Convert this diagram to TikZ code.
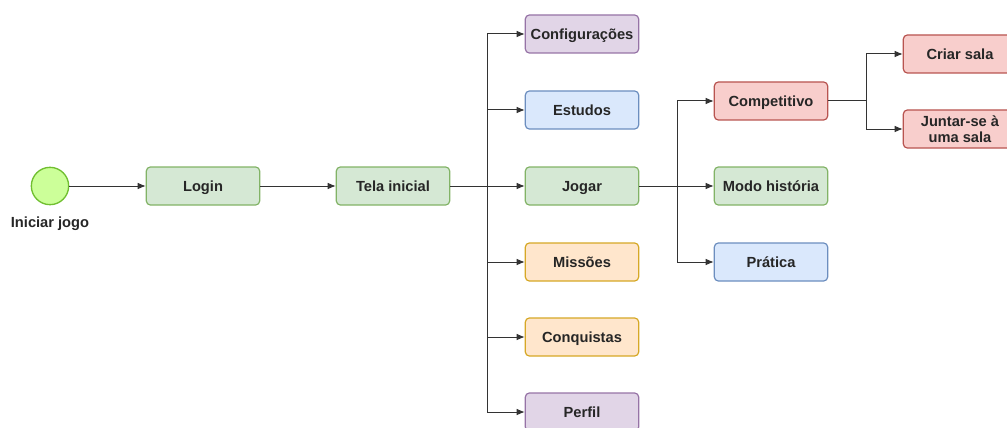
\documentclass[tikz,border=0pt]{standalone}
\usepackage{fontspec}
\setmainfont{Liberation Sans}
\usetikzlibrary{arrows.meta}

\definecolor{greenfill}{HTML}{D5E8D4}
\definecolor{greenline}{HTML}{82B366}
\definecolor{purplefill}{HTML}{E1D5E7}
\definecolor{purpleline}{HTML}{9673A6}
\definecolor{bluefill}{HTML}{DAE8FC}
\definecolor{blueline}{HTML}{6C8EBF}
\definecolor{orangefill}{HTML}{FFE6CC}
\definecolor{orangeline}{HTML}{D6A826}
\definecolor{redfill}{HTML}{F8CECC}
\definecolor{redline}{HTML}{B85450}
\definecolor{startfill}{HTML}{CCFF99}
\definecolor{startline}{HTML}{70BF30}
\definecolor{wirecolor}{HTML}{333333}

\tikzset{
  screen/.style={rectangle, rounded corners=3pt, draw, line width=0.9pt,
    minimum width=85pt, minimum height=28.5pt, inner sep=1pt, align=center,
    text height=9.5pt, text depth=1.6pt,
    font=\fontsize{11}{12}\selectfont\bfseries, text=black!85},
  greenbox/.style={screen, fill=greenfill, draw=greenline},
  purplebox/.style={screen, fill=purplefill, draw=purpleline},
  bluebox/.style={screen, fill=bluefill, draw=blueline},
  orangebox/.style={screen, fill=orangefill, draw=orangeline},
  redbox/.style={screen, fill=redfill, draw=redline},
  wire/.style={draw=wirecolor, line width=0.75pt},
}

\begin{document}
\begin{tikzpicture}[x=0.75pt, y=-0.75pt, >={Latex[length=6pt,width=5pt]}]
      \useasboundingbox (0, 0) rectangle (1007, 428);
      \node [circle, draw=startline, fill=startfill, line width=1pt, minimum size=28pt] (start) at (50, 186) {};
      \node [font=\fontsize{11}{12}\selectfont\bfseries, text=black!85] (startlabel) at (50, 224) {Iniciar jogo};
      \node [greenbox] (login) at (203, 186) {Login};
      \node [greenbox] (tela) at (393, 186) {Tela inicial};
      \node [purplebox] (config) at (582, 34) {Configurações};
      \node [bluebox] (estudos) at (582, 110) {Estudos};
      \node [greenbox] (jogar) at (582, 186) {Jogar};
      \node [orangebox] (missoes) at (582, 262) {Missões};
      \node [orangebox] (conquistas) at (582, 337) {Conquistas};
      \node [purplebox] (perfil) at (582, 412) {Perfil};
      \node [redbox] (competitivo) at (771, 101) {Competitivo};
      \node [greenbox] (historia) at (771, 186) {Modo história};
      \node [bluebox] (pratica) at (771, 262) {Prática};
      \node [redbox] (criar) at (960, 54) {Criar sala};
      \node [redbox, text height=, text depth=] (juntar) at (960, 129) {Juntar-se à\\uma sala};
      \coordinate (menubus) at (487, 186);
      \coordinate (jogarbus) at (677, 186);
      \coordinate (salabus) at (866, 101);
      \draw [wire, ->] (start) -- (login);
      \draw [wire, ->] (login) -- (tela);
      \draw [wire, ->] (tela) -- (jogar);
      \draw [wire, ->] (menubus) |- (config);
      \draw [wire, ->] (menubus) |- (estudos);
      \draw [wire, ->] (menubus) |- (missoes);
      \draw [wire, ->] (menubus) |- (conquistas);
      \draw [wire, ->] (menubus) |- (perfil);
      \draw [wire, ->] (jogar) -- (historia);
      \draw [wire, ->] (jogarbus) |- (competitivo);
      \draw [wire, ->] (jogarbus) |- (pratica);
      \draw [wire] (competitivo) -- (salabus);
      \draw [wire, ->] (salabus) |- (criar);
      \draw [wire, ->] (salabus) |- (juntar);
    \end{tikzpicture}
\end{document}
